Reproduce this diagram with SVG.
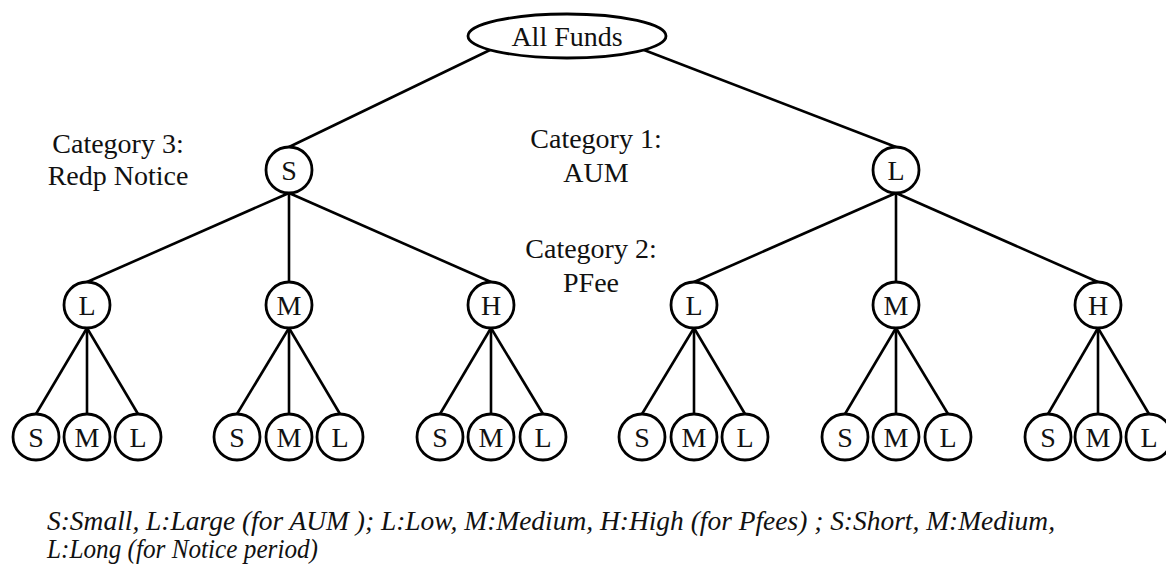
<svg xmlns="http://www.w3.org/2000/svg" width="1166" height="568" viewBox="0 0 1166 568">
  <style>
    .edge { stroke: #000; stroke-width: 2.6; fill: none; }
    .node { fill: #fff; stroke: #000; stroke-width: 2.8; }
    text { font-family: 'Liberation Serif', 'Times New Roman', 'DejaVu Serif', serif; fill: #111; }
    .lbl { font-size: 28px; text-anchor: middle; }
    .cat { font-size: 28px; text-anchor: middle; }
    .note { font-size: 27px; font-style: italic; }
  </style>
  <rect width="1166" height="568" fill="#fff"/>

  <!-- connectors -->
  <g id="edges" class="edge">
    <!-- root to AUM -->
    <line x1="490" y1="50" x2="289" y2="147"/>
    <line x1="644" y1="50" x2="896" y2="147"/>
    <!-- AUM to PFee -->
    <line x1="289" y1="193" x2="87" y2="282"/>
    <line x1="289" y1="193" x2="289" y2="282"/>
    <line x1="289" y1="193" x2="491" y2="282"/>
    <line x1="896" y1="193" x2="694" y2="282"/>
    <line x1="896" y1="193" x2="896" y2="282"/>
    <line x1="896" y1="193" x2="1098" y2="282"/>
    <!-- PFee to notice period -->
    <line x1="87" y1="328" x2="36" y2="414"/>
    <line x1="87" y1="328" x2="87" y2="414"/>
    <line x1="87" y1="328" x2="138" y2="414"/>
    <line x1="289" y1="328" x2="237" y2="414"/>
    <line x1="289" y1="328" x2="289" y2="414"/>
    <line x1="289" y1="328" x2="340" y2="414"/>
    <line x1="491" y1="328" x2="440" y2="414"/>
    <line x1="491" y1="328" x2="491" y2="414"/>
    <line x1="491" y1="328" x2="543" y2="414"/>
    <line x1="694" y1="328" x2="642" y2="414"/>
    <line x1="694" y1="328" x2="694" y2="414"/>
    <line x1="694" y1="328" x2="745" y2="414"/>
    <line x1="896" y1="328" x2="845" y2="414"/>
    <line x1="896" y1="328" x2="896" y2="414"/>
    <line x1="896" y1="328" x2="948" y2="414"/>
    <line x1="1098" y1="328" x2="1048" y2="414"/>
    <line x1="1098" y1="328" x2="1098" y2="414"/>
    <line x1="1098" y1="328" x2="1149" y2="414"/>
  </g>

  <!-- root -->
  <g id="root">
    <ellipse class="node" cx="567" cy="36" rx="99" ry="22"/>
    <text class="lbl" x="567" y="46">All Funds</text>
  </g>

  <!-- category labels -->
  <g id="cat3">
    <text class="cat" x="118" y="153">Category 3:</text>
    <text class="cat" x="118" y="185">Redp Notice</text>
  </g>
  <g id="cat1">
    <text class="cat" x="596" y="148">Category 1:</text>
    <text class="cat" x="596" y="182">AUM</text>
  </g>
  <g id="cat2">
    <text class="cat" x="591" y="258">Category 2:</text>
    <text class="cat" x="591" y="292">PFee</text>
  </g>

  <!-- level 1: AUM -->
  <g id="aum-s"><circle class="node" cx="289" cy="170" r="23"/><text class="lbl" x="289" y="180">S</text></g>
  <g id="aum-l"><circle class="node" cx="896" cy="170" r="23"/><text class="lbl" x="896" y="180">L</text></g>

  <!-- level 2: PFee -->
  <g id="s-fee-l"><circle class="node" cx="87" cy="305" r="23"/><text class="lbl" x="87" y="315">L</text></g>
  <g id="s-fee-m"><circle class="node" cx="289" cy="305" r="23"/><text class="lbl" x="289" y="315">M</text></g>
  <g id="s-fee-h"><circle class="node" cx="491" cy="305" r="23"/><text class="lbl" x="491" y="315">H</text></g>
  <g id="l-fee-l"><circle class="node" cx="694" cy="305" r="23"/><text class="lbl" x="694" y="315">L</text></g>
  <g id="l-fee-m"><circle class="node" cx="896" cy="305" r="23"/><text class="lbl" x="896" y="315">M</text></g>
  <g id="l-fee-h"><circle class="node" cx="1098" cy="305" r="23"/><text class="lbl" x="1098" y="315">H</text></g>

  <!-- level 3: notice period -->
  <g id="sl-s"><circle class="node" cx="36" cy="437" r="23"/><text class="lbl" x="36" y="447">S</text></g>
  <g id="sl-m"><circle class="node" cx="87" cy="437" r="23"/><text class="lbl" x="87" y="447">M</text></g>
  <g id="sl-l"><circle class="node" cx="138" cy="437" r="23"/><text class="lbl" x="138" y="447">L</text></g>

  <g id="sm-s"><circle class="node" cx="237" cy="437" r="23"/><text class="lbl" x="237" y="447">S</text></g>
  <g id="sm-m"><circle class="node" cx="289" cy="437" r="23"/><text class="lbl" x="289" y="447">M</text></g>
  <g id="sm-l"><circle class="node" cx="340" cy="437" r="23"/><text class="lbl" x="340" y="447">L</text></g>

  <g id="sh-s"><circle class="node" cx="440" cy="437" r="23"/><text class="lbl" x="440" y="447">S</text></g>
  <g id="sh-m"><circle class="node" cx="491" cy="437" r="23"/><text class="lbl" x="491" y="447">M</text></g>
  <g id="sh-l"><circle class="node" cx="543" cy="437" r="23"/><text class="lbl" x="543" y="447">L</text></g>

  <g id="ll-s"><circle class="node" cx="642" cy="437" r="23"/><text class="lbl" x="642" y="447">S</text></g>
  <g id="ll-m"><circle class="node" cx="694" cy="437" r="23"/><text class="lbl" x="694" y="447">M</text></g>
  <g id="ll-l"><circle class="node" cx="745" cy="437" r="23"/><text class="lbl" x="745" y="447">L</text></g>

  <g id="lm-s"><circle class="node" cx="845" cy="437" r="23"/><text class="lbl" x="845" y="447">S</text></g>
  <g id="lm-m"><circle class="node" cx="896" cy="437" r="23"/><text class="lbl" x="896" y="447">M</text></g>
  <g id="lm-l"><circle class="node" cx="948" cy="437" r="23"/><text class="lbl" x="948" y="447">L</text></g>

  <g id="lh-s"><circle class="node" cx="1048" cy="437" r="23"/><text class="lbl" x="1048" y="447">S</text></g>
  <g id="lh-m"><circle class="node" cx="1098" cy="437" r="23"/><text class="lbl" x="1098" y="447">M</text></g>
  <g id="lh-l"><circle class="node" cx="1149" cy="437" r="23"/><text class="lbl" x="1149" y="447">L</text></g>

  <!-- legend -->
  <g id="legend">
    <text class="note" x="47" y="530" textLength="1008" lengthAdjust="spacingAndGlyphs">S:Small, L:Large (for AUM ); L:Low, M:Medium, H:High (for Pfees) ; S:Short, M:Medium,</text>
    <text class="note" x="47" y="558" textLength="271" lengthAdjust="spacingAndGlyphs">L:Long (for Notice period)</text>
  </g>
</svg>
